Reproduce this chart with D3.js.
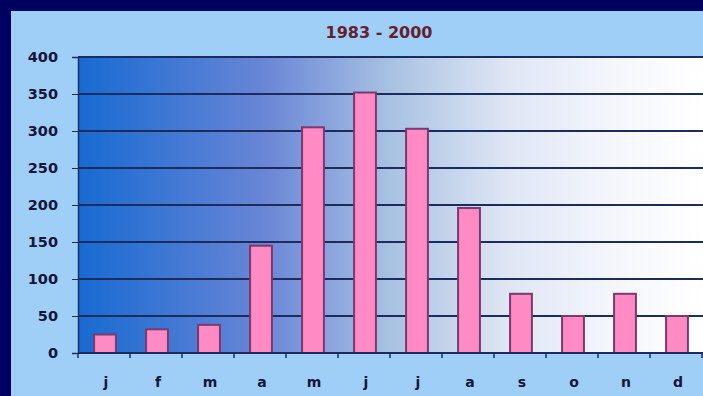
<!DOCTYPE html>
<html><head><meta charset="utf-8">
<script src="https://cdn.jsdelivr.net/npm/d3@7"></script>
<style>html,body{margin:0;padding:0;background:#000060;overflow:hidden}</style>
</head><body>
<script>
const months = ["j","f","m","a","m","j","j","a","s","o","n","d"];
const values = [25, 32, 38, 145, 305, 352, 303, 196, 80, 50, 80, 50];
const yTicks = [0, 50, 100, 150, 200, 250, 300, 350, 400];
const title = "1983 - 2000";

const W = 703, H = 396;
const FONT = "'DejaVu Sans', Verdana, sans-serif";
const svg = d3.select("body").append("svg").attr("width", W).attr("height", H);
svg.append("rect").attr("width", W).attr("height", H).attr("fill", "#000060");
svg.append("rect").attr("x", 11).attr("y", 11).attr("width", W).attr("height", H).attr("fill", "#9fcff7");

const m = {left: 78};
const x = d3.scaleBand().domain(d3.range(months.length)).range([m.left, 702]).paddingInner(0.58).paddingOuter(0.29);
const y = d3.scaleLinear().domain([0, 400]).range([353, 57]);

const defs = svg.append("defs");
const g = defs.append("linearGradient").attr("id", "bg").attr("x1", "0%").attr("x2", "100%");
[["0%", "#176ad2"], ["30%", "#6a86d6"], ["50%", "#a8c2e2"], ["68%", "#dde5f4"], ["85%", "#f4f6fc"], ["100%", "#ffffff"]]
  .forEach(([o, c]) => g.append("stop").attr("offset", o).attr("stop-color", c));

svg.append("rect").attr("x", m.left).attr("y", y(400)).attr("width", W - m.left).attr("height", y(0) - y(400)).attr("fill", "url(#bg)");

// gridlines
svg.append("g").selectAll("line").data(yTicks.filter(d => d > 0)).join("line")
  .attr("x1", m.left).attr("x2", W).attr("y1", d => y(d)).attr("y2", d => y(d))
  .attr("stroke", "#1c2c5c").attr("stroke-width", 2);

// bars
svg.append("g").selectAll("rect").data(values).join("rect")
  .attr("x", (d, i) => x(i) + 1).attr("width", x.bandwidth())
  .attr("y", d => y(d)).attr("height", d => y(0) - y(d))
  .attr("fill", "#ff8ac4").attr("stroke", "#7a3a6e").attr("stroke-width", 2);

// y axis
const ya = svg.append("g").attr("transform", `translate(${m.left},0)`)
  .call(d3.axisLeft(y).tickValues(yTicks).tickSize(6).tickPadding(14));
ya.select(".domain").attr("stroke", "#1c2c5c").attr("stroke-width", 1.5);
ya.selectAll(".tick line").attr("stroke", "#1c2c5c");
ya.selectAll("text").attr("fill", "#14143c").attr("font-family", FONT)
  .attr("font-weight", "bold").attr("font-size", 14.5);

// x axis
const xa = svg.append("g").attr("transform", `translate(0,${y(0)})`)
  .call(d3.axisBottom(x).tickFormat(i => months[i]).tickSize(0).tickPadding(24));
xa.select(".domain").attr("stroke", "#1c2c5c").attr("stroke-width", 2).attr("d", `M${m.left},0H${W}`);
xa.selectAll(".tick").attr("transform", function () {
  const t = d3.select(this).attr("transform");
  const v = +t.match(/translate\(([-\d.]+)/)[1];
  return `translate(${v + 2},0)`;
});
xa.selectAll("text").attr("fill", "#14143c").attr("font-family", FONT)
  .attr("font-weight", "bold").attr("font-size", 14);
// boundary ticks
const bounds = d3.range(months.length + 1).map(i => m.left + i * (702 - m.left) / months.length);
svg.append("g").selectAll("line").data(bounds).join("line")
  .attr("x1", d => d).attr("x2", d => d).attr("y1", y(0)).attr("y2", y(0) + 5)
  .attr("stroke", "#1c2c5c").attr("stroke-width", 1.5);

svg.append("text").attr("x", 379).attr("y", 38).attr("text-anchor", "middle")
  .attr("font-family", FONT).attr("font-weight", "bold").attr("font-size", 16)
  .attr("fill", "#642030").text(title);
</script>
</body></html>
